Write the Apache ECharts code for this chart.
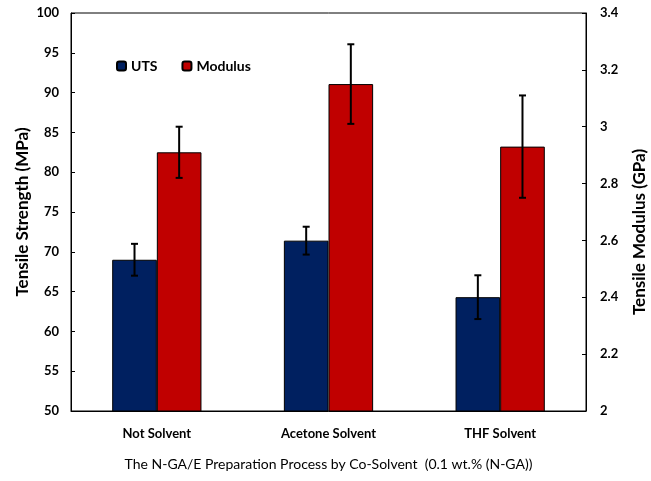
<!DOCTYPE html>
<html>
<head>
<meta charset="utf-8">
<script src="https://cdn.jsdelivr.net/npm/echarts@6/dist/echarts.min.js"></script>
<style>
  html, body { margin: 0; padding: 0; background: #fff; }
  #chart { width: 651px; height: 481px; }
</style>
</head>
<body>
<div id="chart"></div>
<script>
// data
const categories = ["Not Solvent", "Acetone Solvent", "THF Solvent"];
const utsValues = [69.0, 71.4, 64.3];
const utsErrors = [2.0, 1.75, 2.75];
const modulusValues = [2.91, 3.15, 2.93];
const modulusErrors = [0.09, 0.14, 0.18];
const leftTicks = [50, 100, 5];
const rightTicks = [2, 3.4, 0.2];

const FONT = "Lato, 'Open Sans', sans-serif";
const BAR_SHARE = 0.52; // fraction of category band covered by the two bars

// error bar drawn as a custom series, shifted to sit on its own bar
function errorBar(values, errors, side) {
  return function (params, api) {
    const i = api.value(0);
    const band = api.size([1, 0])[0];
    const barW = band * BAR_SHARE / 2;
    const dx = side * barW / 2;
    const hi = api.coord([i, values[i] + errors[i]]);
    const lo = api.coord([i, values[i] - errors[i]]);
    const x = hi[0] + dx;
    const cap = 3.5;
    const style = { stroke: "#000", lineWidth: 2 };
    return {
      type: "group",
      children: [
        { type: "line", shape: { x1: x, y1: hi[1], x2: x, y2: lo[1] }, style: style },
        { type: "line", shape: { x1: x - cap, y1: hi[1], x2: x + cap, y2: hi[1] }, style: style },
        { type: "line", shape: { x1: x - cap, y1: lo[1], x2: x + cap, y2: lo[1] }, style: style }
      ]
    };
  };
}

const chart = echarts.init(document.getElementById("chart"));
chart.setOption({
  animation: false,
  textStyle: { fontFamily: FONT },
  grid: {
    left: 71, right: 65, top: 13, bottom: 70,
    outerBoundsMode: "none",
    show: true, borderColor: "#000", borderWidth: 1
  },
  legend: {
    left: 111, top: 54,
    itemWidth: 9, itemHeight: 9, itemGap: 24, itemTextGap: 4,
    textStyle: { fontSize: 14, fontWeight: "bold", color: "#000", fontFamily: FONT },
    data: ["UTS", "Modulus"]
  },
  xAxis: {
    type: "category",
    data: categories,
    axisLine: { lineStyle: { color: "#000" } },
    axisTick: { show: false },
    axisLabel: { color: "#000", fontSize: 13, fontWeight: "bold", margin: 16 },
    name: "The N-GA/E Preparation Process by Co-Solvent  (0.1 wt.% (N-GA))",
    nameLocation: "middle",
    nameGap: 46,
    nameMoveOverlap: false,
    nameTextStyle: { color: "#000", fontSize: 14, fontFamily: FONT }
  },
  yAxis: [
    {
      type: "value",
      min: leftTicks[0], max: leftTicks[1], interval: leftTicks[2],
      axisLine: { show: true, lineStyle: { color: "#000" } },
      axisTick: { show: true, inside: true, length: 4, lineStyle: { color: "#000" } },
      splitLine: { show: false },
      axisLabel: { color: "#000", fontSize: 13, fontWeight: "bold", margin: 12 },
      name: "Tensile Strength (MPa)",
      nameLocation: "middle",
      nameGap: 40,
      nameMoveOverlap: false,
      nameTextStyle: { color: "#000", fontSize: 17, fontWeight: "bold", fontFamily: FONT }
    },
    {
      type: "value",
      min: rightTicks[0], max: rightTicks[1], interval: rightTicks[2],
      axisLine: { show: true, lineStyle: { color: "#000" } },
      axisTick: { show: true, inside: true, length: 4, lineStyle: { color: "#000" } },
      splitLine: { show: false },
      axisLabel: { color: "#000", fontSize: 13, fontWeight: "bold", margin: 14 },
      name: "Tensile Modulus (GPa)",
      nameLocation: "middle",
      nameGap: 45,
      nameMoveOverlap: false,
      nameTextStyle: {
        color: "#000", fontSize: 17, fontWeight: "bold", fontFamily: FONT,
        padding: [0, 40, 0, 0]
      }
    }
  ],
  series: [
    {
      name: "UTS",
      type: "bar",
      yAxisIndex: 0,
      data: utsValues,
      barGap: "0%",
      barCategoryGap: ((1 - BAR_SHARE) * 100) + "%",
      itemStyle: { color: "#002060", borderColor: "#000", borderWidth: 1 }
    },
    {
      name: "Modulus",
      type: "bar",
      yAxisIndex: 1,
      data: modulusValues,
      itemStyle: { color: "#C00000", borderColor: "#000", borderWidth: 1 }
    },
    {
      type: "custom",
      yAxisIndex: 0,
      renderItem: errorBar(utsValues, utsErrors, -1),
      data: utsValues.map((v, i) => [i, v]),
      z: 10
    },
    {
      type: "custom",
      yAxisIndex: 1,
      renderItem: errorBar(modulusValues, modulusErrors, 1),
      data: modulusValues.map((v, i) => [i, v]),
      z: 10
    }
  ]
});
</script>
</body>
</html>
